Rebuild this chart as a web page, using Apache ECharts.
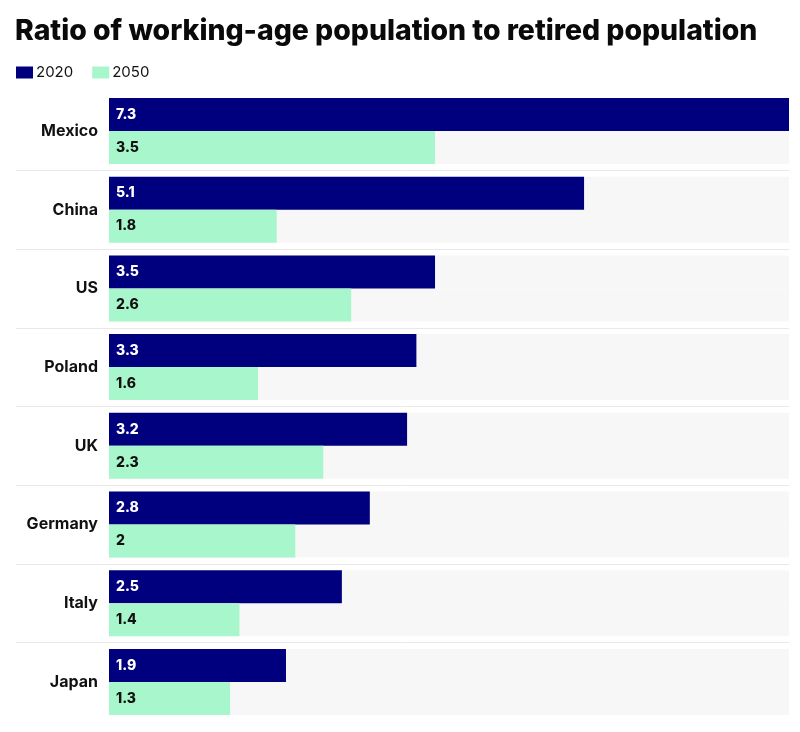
<!DOCTYPE html>
<html>
<head>
<meta charset="utf-8">
<script src="https://cdn.jsdelivr.net/npm/echarts@6/dist/echarts.min.js"></script>
<style>
html,body{margin:0;padding:0;background:#fff;}
#chart{width:800px;height:732px;}
</style>
</head>
<body>
<div id="chart"></div>
<script>
const categories = ['Mexico', 'China', 'US', 'Poland', 'UK', 'Germany', 'Italy', 'Japan'];
const values2020 = [7.3, 5.1, 3.5, 3.3, 3.2, 2.8, 2.5, 1.9];
const values2050 = [3.5, 1.8, 2.6, 1.6, 2.3, 2.0, 1.4, 1.3];
const labels2050 = ['3.5', '1.8', '2.6', '1.6', '2.3', '2', '1.4', '1.3'];
const seriesNames = ['2020', '2050'];

const FONT = 'Inter';
const chart = echarts.init(document.getElementById('chart'));
const BAND = 78.7;
const GRID_TOP = 91.65;

chart.setOption({
  backgroundColor: '#ffffff',
  animation: false,
  title: {
    text: 'Ratio of working-age population to retired population',
    left: 10, top: 12,
    textStyle: { fontFamily: FONT, fontWeight: 800, fontSize: 28.4, color: '#0a0a0a' }
  },
  legend: {
    left: 11, top: 60,
    itemWidth: 17, itemHeight: 12, itemGap: 19,
    icon: 'rect',
    textStyle: { fontFamily: FONT, fontSize: 15, color: '#111111', padding: [0, 0, 0, -2] },
    data: seriesNames
  },
  grid: [
    { left: 109, right: 11, top: GRID_TOP, height: BAND * categories.length, containLabel: false },
    { left: 16, right: 11, top: GRID_TOP + BAND, height: BAND * (categories.length - 2), containLabel: false }
  ],
  xAxis: [
    { type: 'value', gridIndex: 0, min: 0, max: 7.3, show: false },
    { type: 'value', gridIndex: 1, min: 0, max: 1, show: false }
  ],
  yAxis: [
    {
      type: 'category', gridIndex: 0, data: categories, inverse: true,
      axisLine: { show: false }, axisTick: { show: false }, splitLine: { show: false },
      axisLabel: { margin: 11, fontFamily: FONT, fontWeight: 'bold', fontSize: 16, color: '#111111' }
    },
    {
      type: 'category', gridIndex: 1, data: categories.slice(1), inverse: true, boundaryGap: false,
      axisLine: { show: false }, axisTick: { show: false }, axisLabel: { show: false },
      splitLine: { show: true, interval: 0, lineStyle: { color: '#e8e8e8', width: 1 } }
    }
  ],
  series: [
    {
      name: seriesNames[0], type: 'bar', xAxisIndex: 0, yAxisIndex: 0,
      data: values2020, barWidth: 33, barGap: '0%',
      itemStyle: { color: '#00007f' },
      showBackground: true, backgroundStyle: { color: '#f7f7f7' },
      label: { show: true, position: 'insideLeft', distance: 7, fontFamily: FONT, fontWeight: 800, fontSize: 14, color: '#ffffff' }
    },
    {
      name: seriesNames[1], type: 'bar', xAxisIndex: 0, yAxisIndex: 0,
      data: values2050, barWidth: 33, barGap: '0%',
      itemStyle: { color: '#a8f6cb' },
      showBackground: true, backgroundStyle: { color: '#f7f7f7' },
      label: { show: true, position: 'insideLeft', distance: 7, fontFamily: FONT, fontWeight: 800, fontSize: 14, color: '#111111',
        formatter: p => labels2050[p.dataIndex] }
    }
  ]
});
</script>
</body>
</html>
